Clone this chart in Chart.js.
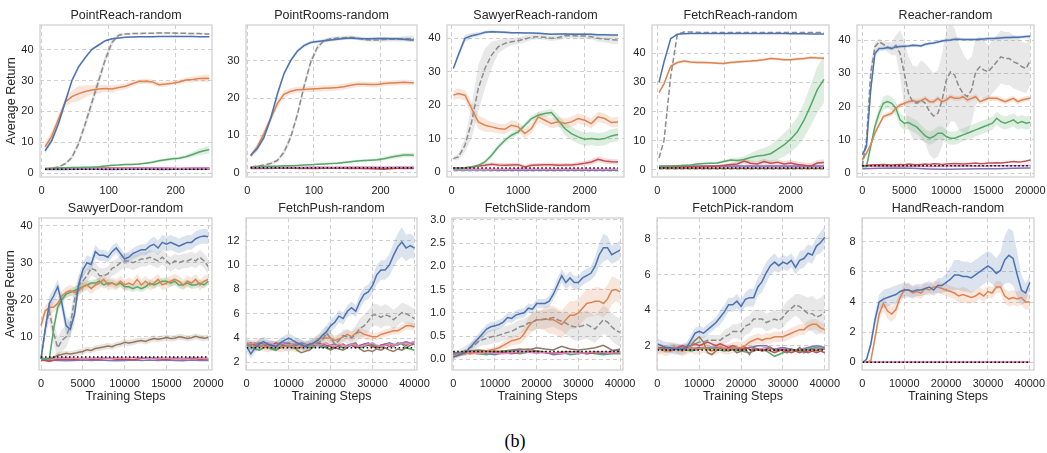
<!DOCTYPE html>
<html><head><meta charset="utf-8">
<script src="https://cdn.jsdelivr.net/npm/chart.js@4.4.0/dist/chart.umd.min.js"></script>
<style>
html,body{margin:0;padding:0;background:#fff;}
body{width:1047px;height:453px;position:relative;overflow:hidden;}
canvas{position:absolute;}
#cap{position:absolute;left:490px;width:50px;top:431px;text-align:center;font:18px "Liberation Serif","Times New Roman",serif;color:#000;}
</style></head><body>
<div id="cap">(b)</div>
<script>
// ---------- titles ----------
const titles = ["PointReach-random","PointRooms-random","SawyerReach-random","FetchReach-random","Reacher-random",
                "SawyerDoor-random","FetchPush-random","FetchSlide-random","FetchPick-random","HandReach-random"];
const yAxisLabel = "Average Return";
const xAxisLabel = "Training Steps";

// ---------- tick labels ----------
const pr_xticks = ["0","100","200"];          const pr_yticks = ["0","10","20","30","40"];
const pm_xticks = ["0","100","200"];          const pm_yticks = ["0","10","20","30"];
const sr_xticks = ["0","1000","2000"];        const sr_yticks = ["0","10","20","30","40"];
const fr_xticks = ["0","1000","2000"];        const fr_yticks = ["0","10","20","30","40"];
const re_xticks = ["0","5000","10000","15000","20000"]; const re_yticks = ["0","10","20","30","40"];
const sd_xticks = ["0","5000","10000","15000","20000"]; const sd_yticks = ["10","20","30","40"];
const fp_xticks = ["0","10000","20000","30000","40000"]; const fp_yticks = ["2","4","6","8","10","12"];
const fs_xticks = ["0","10000","20000","30000","40000"]; const fs_yticks = ["0.0","0.5","1.0","1.5","2.0","2.5","3.0"];
const fk_xticks = ["0","10000","20000","30000","40000"]; const fk_yticks = ["2","4","6","8"];
const hr_xticks = ["0","10000","20000","30000","40000"]; const hr_yticks = ["0","2","4","6","8"];

// ---------- PointReach ----------
const pr_x  = [5,15,25,35,45,55,65,75,85,95,105,115,125,135,145,155,165,175,185,195,205,215,225,235,245,250];
const pr_xm = [5,30,55,80,105,130,155,180,205,230,250];
const pr_blue   = [7.2,10.5,16,23,30,34.5,37.5,40.2,41.6,43,43.6,43.9,44.1,44.2,44.3,44.3,44.3,44.4,44.4,44.4,44.4,44.4,44.4,44.3,44.3,44.3];
const pr_blue_sd= [0.8,1.0,1.0,1.0,0.8,0.6,0.5,0.4,0.3,0.3,0.3,0.3,0.2,0.2,0.2,0.2,0.2,0.2,0.2,0.2,0.2,0.2,0.2,0.2,0.2,0.2];
const pr_orange = [8.5,12,17.5,23,24.8,25.8,26.5,27,27.3,27.5,27.3,27.8,28.2,29,29.7,29.8,29.6,28.7,28.9,29.2,29.6,30.2,30.4,30.7,30.8,30.7];
const pr_orange_sd=[1.5,1.5,1.5,1.5,2.0,2.5,2.0,1.5,1.5,1.2,1.2,1.0,1.0,1.0,0.8,0.8,0.8,0.8,0.8,0.8,0.8,0.8,1.0,1.0,1.2,1.2];
const pr_gray   = [1.3,1.5,2.0,3.0,5.0,9.5,16,23,30,37,42.5,44.8,45.2,45.3,45.3,45.4,45.4,45.5,45.5,45.5,45.4,45.4,45.3,45.3,45.2,45.2];
const pr_gray_sd= [0.2,0.3,0.3,0.5,0.8,1.2,1.5,1.8,1.8,1.5,1.2,0.6,0.3,0.3,0.3,0.3,0.3,0.3,0.3,0.3,0.3,0.3,0.3,0.3,0.3,0.3];
const pr_green  = [1.3,1.5,1.6,1.7,1.8,1.8,1.9,1.9,2.0,2.3,2.5,2.6,2.8,2.8,2.9,3.2,3.5,4.0,4.3,4.6,4.8,5.3,6.0,6.8,7.4,7.6];
const pr_green_sd=[0.2,0.2,0.2,0.2,0.2,0.2,0.2,0.2,0.2,0.3,0.3,0.3,0.3,0.3,0.3,0.3,0.4,0.4,0.5,0.5,0.5,0.6,0.8,1.0,1.2,1.2];
const pr_red    = [1.5,1.6,1.6,1.7,1.6,1.6,1.7,1.6,1.5,1.6,1.7];
const pr_purple = [1.1,1.1,1.2,1.2,1.1,1.2,1.2,1.1,1.2,1.2,1.2];
const pr_pink   = [1.5,1.5,1.6,1.6,1.5,1.5,1.6,1.6,1.5,1.6,1.6];
const pr_black  = [1.2,1.2,1.2,1.2,1.2,1.2,1.2,1.2,1.2,1.2,1.2];

// ---------- PointRooms ----------
const pm_x  = [5,15,25,35,45,55,65,75,85,95,105,115,125,135,145,155,165,175,185,195,205,215,225,235,245,250];
const pm_xm = [5,30,55,80,105,130,155,180,205,230,250];
const pm_blue   = [4.7,6.5,9.5,14.5,21,26.5,30,32.5,34,34.8,35.1,35.3,35.5,35.7,35.9,36.0,35.9,35.8,35.8,35.9,35.9,35.8,35.8,35.7,35.5,35.5];
const pm_blue_sd= [0.6,0.8,0.8,0.8,0.8,0.7,0.6,0.5,0.5,0.4,0.4,0.4,0.4,0.4,0.4,0.4,0.4,0.4,0.4,0.4,0.4,0.4,0.4,0.5,0.5,0.5];
const pm_orange = [4.5,7,10.5,14.5,18.5,21,21.8,22.2,22.3,22.4,22.5,22.6,22.7,22.8,23.0,23.4,23.7,23.7,23.6,23.6,23.9,24.0,24.1,24.2,24.1,24.1];
const pm_orange_sd=[0.5,0.8,1.0,1.2,1.2,1.0,0.8,0.8,0.8,0.8,0.8,0.8,0.8,0.8,0.8,0.8,0.8,0.7,0.7,0.7,0.7,0.7,0.7,0.7,0.7,0.7];
const pm_gray   = [1.6,1.8,2.1,2.5,3.3,5.5,9.5,15.5,23,29.5,33.5,35.3,35.8,36.0,36.1,36.2,36.0,35.6,35.5,35.5,35.6,35.7,35.7,35.8,35.9,35.9];
const pm_gray_sd= [0.2,0.3,0.3,0.4,0.5,0.8,1.0,1.2,1.2,1.0,0.8,0.6,0.5,0.5,0.5,0.5,0.5,0.5,0.5,0.5,0.6,0.6,0.6,0.7,0.8,0.8];
const pm_green  = [1.6,1.7,1.8,1.8,1.8,1.9,1.9,2.0,2.1,2.2,2.3,2.4,2.5,2.6,2.8,3.0,3.2,3.3,3.4,3.5,3.8,4.2,4.5,4.8,4.8,4.7];
const pm_green_sd=[0.2,0.2,0.2,0.2,0.2,0.2,0.2,0.2,0.2,0.2,0.2,0.2,0.2,0.3,0.3,0.3,0.3,0.3,0.3,0.4,0.5,0.5,0.6,0.6,0.6,0.6];
const pm_red    = [1.3,1.4,1.4,1.3,1.3,1.4,1.3,1.2,1.0,1.3,1.4];
const pm_purple = [1.2,1.2,1.3,1.2,1.2,1.3,1.2,1.2,1.3,1.2,1.2];
const pm_pink   = [1.5,1.5,1.6,1.5,1.6,1.5,1.6,1.6,1.5,1.6,1.6];
const pm_black  = [1.4,1.4,1.4,1.4,1.4,1.4,1.4,1.4,1.4,1.4,1.4];

// ---------- SawyerReach ----------
const sr_x  = [25,100,200,300,400,500,600,700,800,900,1000,1100,1200,1300,1400,1500,1600,1700,1800,1900,2000,2100,2200,2300,2400,2500];
const sr_xm = [25,250,500,750,1000,1250,1500,1750,2000,2250,2500];
const sr_blue   = [31,35,40,40.8,41.2,41.8,42.0,41.9,41.8,41.7,41.7,41.6,41.6,41.5,41.4,41.2,41.3,41.3,41.2,41.2,41.2,41.2,41.1,41.1,41.0,41.0];
const sr_blue_sd= [0.5,1.0,1.0,0.8,0.6,0.5,0.4,0.4,0.4,0.3,0.3,0.3,0.3,0.3,0.3,0.3,0.3,0.3,0.3,0.3,0.3,0.3,0.3,0.3,0.3,0.3];
const sr_gray   = [4,4.5,8,15,25,31,35,37.5,38.5,39,39.3,39.8,40.4,40.5,40.3,40.0,40.2,40.8,40.8,40.7,40.7,40.5,40.0,39.8,39.6,39.5];
const sr_gray_sd= [0.5,1,2,5,7,6,4,2,1.5,1,1,1,0.8,0.8,0.8,0.8,0.8,0.8,0.8,0.8,0.8,0.8,1,1,1.2,1.2];
const sr_orange = [23,23.5,23,19,15,14,13.5,13,12.8,14,13.5,11.5,13,16.5,15.5,14.5,15,14.5,15,16,15.5,14.5,16.5,16,14.8,15];
const sr_orange_sd=[1.5,1.5,1.5,2.0,2.0,2.0,1.5,1.5,1.5,1.5,1.5,1.5,1.5,1.5,1.5,1.5,1.5,1.5,1.5,1.5,1.5,1.5,1.5,1.5,1.5,1.5];
const sr_green  = [1,1,1.2,1.5,2,3,5,7.5,9.5,11,12,14,16,17,17.5,17.8,15.5,13,11.5,10.5,9.8,10,9.7,10,10.8,11.2];
const sr_green_sd=[0.2,0.2,0.2,0.3,0.5,0.6,0.8,0.8,0.8,0.8,0.8,0.8,0.8,1.0,1.0,1.2,1.5,2.0,2.0,2.0,2.0,2.0,2.0,2.0,2.0,2.0];
const sr_red    = [1.2,1.2,1.3,1.5,1.8,2,2.3,2.1,2,2.1,2.2,1.5,2,2.1,2.2,2.2,2.0,2.1,2.1,2.3,2.6,3.0,3.8,3.3,3.1,3.0];
const sr_red_sd = [0.2,0.2,0.3,0.4,0.5,0.6,0.6,0.6,0.6,0.6,0.6,0.6,0.6,0.6,0.6,0.6,0.6,0.6,0.6,0.7,0.7,0.8,0.8,0.8,0.8,0.8];
const sr_purple = [0.6,0.6,0.6,0.5,0.5,0.6,0.5,0.5,0.5,0.5,0.5];
const sr_pink   = [0.9,0.9,0.8,0.8,0.9,0.8,0.8,0.9,0.8,0.8,0.8];
const sr_black  = [1.2,1.2,1.2,1.2,1.2,1.2,1.2,1.2,1.2,1.2,1.2];

// ---------- FetchReach ----------
const fr_x  = [25,100,200,300,400,500,600,700,800,900,1000,1100,1200,1300,1400,1500,1600,1700,1800,1900,2000,2100,2200,2300,2400,2500];
const fr_xm = [25,250,500,750,1000,1250,1500,1750,2000,2250,2500];
const fr_blue   = [30,37,45,46.5,46.7,46.8,46.8,46.8,46.8,46.8,46.8,46.8,46.8,46.8,46.8,46.8,46.8,46.8,46.8,46.8,46.7,46.7,46.7,46.6,46.6,46.6];
const fr_gray   = [4,10,32,46.5,47.3,47.3,47.2,47.1,47.1,47.1,47.1,47.1,47.1,47.1,47.1,47.1,47.1,47.1,47.1,47.1,47.1,47.1,47.1,47.1,47.1,47.1];
const fr_orange = [26.5,29.5,35.5,36.8,37.3,37.0,36.8,36.8,36.7,36.6,36.5,36.8,37.0,37.2,37.3,37.5,37.8,38.2,38.0,37.8,37.8,38.0,38.2,38.5,38.4,38.3];
const fr_orange_sd=[0.5,0.6,0.6,0.5,0.5,0.5,0.5,0.5,0.5,0.5,0.5,0.5,0.5,0.5,0.5,0.5,0.5,0.5,0.5,0.5,0.5,0.5,0.5,0.5,0.5,0.5];
const fr_green  = [1,1.1,1.2,1.4,1.5,1.6,2.0,2.1,2.2,2.3,2.8,3.3,3.2,3.5,4.2,4.7,5.0,5.5,7.0,8.5,10.5,13,17,22,27.5,31];
const fr_green_sd=[0.2,0.2,0.2,0.2,0.2,0.3,0.3,0.3,0.3,0.4,0.5,0.6,0.8,1.0,1.5,2.0,2.5,3.0,3.5,4.0,4.5,5.0,6.0,7.0,8.0,8.0];
const fr_red    = [0.8,0.8,0.9,0.9,1,1,1,1.1,1.2,1.3,1.5,1.8,2.0,3.0,2.2,2.0,2.8,2.2,2.6,2.0,2.3,1.8,1.5,1.2,2.3,2.5];
const fr_red_sd = [0.2,0.2,0.2,0.2,0.2,0.3,0.3,0.3,0.3,0.4,0.5,0.6,0.8,1.0,1.0,1.0,1.0,1.0,1.0,1.0,1.0,1.0,1.0,1.0,1.0,1.0];
const fr_purple = [1.3,1.3,1.3,1.3,1.3,1.3,1.3,1.3,1.3,1.3,1.3];
const fr_pink   = [0.9,0.9,0.9,0.9,0.9,0.9,0.9,0.9,0.9,0.9,0.9];
const fr_brown  = [0.4,0.4,0.4,0.4,0.4,0.4,0.4,0.4,0.4,0.4,0.4];
const fr_black  = [0.6,0.6,0.6,0.6,0.6,0.6,0.6,0.6,0.6,0.6,0.6];

// ---------- Reacher ----------
const re_x  = [0,500,1000,1500,2000,2500,3000,3500,4000,4500,5000,5500,6000,6500,7000,7500,8000,8500,9000,9500,10000,10500,11000,11500,12000,12500,13000,13500,14000,14500,15000,15500,16000,16500,17000,17500,18000,18500,19000,19500,20000];
const re_xm = [0,2000,4000,6000,8000,10000,12000,14000,16000,18000,20000];
const re_blue   = [5.5,8,25,36,37.5,37.5,37.8,37.5,38,38.1,38.2,38.3,38.5,38.4,38.3,38.8,39,39.2,39.5,39.8,40,40.1,40.3,40.3,40.2,40.2,40.2,40.2,40.3,40.4,40.5,40.5,40.6,40.7,40.8,40.8,40.9,40.9,41,41.1,41.2];
const re_blue_sd= [0.5,1,2,1,0.8,0.6,0.6,0.6,0.6,0.5,0.5,0.5,0.5,0.5,0.5,0.5,0.5,0.5,0.5,0.5,0.5,0.5,0.5,0.5,0.5,0.5,0.5,0.5,0.5,0.5,0.5,0.5,0.5,0.5,0.5,0.5,0.5,0.5,0.5,0.5,0.5];
const re_gray   = [2,10,30,38,39.5,38.8,38,37.5,38.5,36,30,24,21.5,21,22,21,18.5,17.2,18,22,28,30.5,29.5,26,24,23,25,30.5,32,31,30.5,32,33.5,35,34.5,34.5,33.5,33,32,31.5,34];
const re_gray_sd= [0.5,2,3,1.5,1,1,1.5,2,3,7,10,11,11,11,12,12,13,13,13,14,15,15,14,13,12,11,10,10,9,9,8,8,8,8,8,8,8,8,7.5,7.5,7.5];
const re_orange = [4,6,8.5,12,14.5,17,17.5,18,19.5,20.5,21,21.5,21.8,21.5,21.8,22.5,21.5,21.5,22.5,21.5,22,23,22.5,22.5,23,22,22.5,23,21.5,22,22.5,22.5,22.5,22,21.5,22,22.5,21.5,22,22.3,22.5];
const re_orange_sd=[0.5,0.8,0.8,0.8,0.8,0.8,0.8,0.8,0.8,0.8,0.8,0.8,0.8,0.8,0.8,0.8,0.8,0.8,0.8,0.8,0.8,0.8,0.8,0.8,0.8,0.8,0.8,0.8,0.8,0.8,0.8,0.8,0.8,0.8,0.8,0.8,0.8,0.8,0.8,0.8,0.8];
const re_green  = [2,2,8,14,18,21,21.5,21,19.5,16,15,15.2,14.5,13.8,12.5,11.2,10.5,11,12,12,11,10.5,10.5,11,11.5,12,12.5,13,13.5,14,14.5,15,16.5,15.5,15,15.5,16,15,15.5,15,15.3];
const re_green_sd=[0.3,0.3,1,1.5,2,2,2,2,2,2,2,2,2,2,2,2,2,2,2,2,2,2,2,2,2,2,2,2,2,2,2,2,2,2,2,2,2,2,2,2,2];
const re_red    = [2.3,2.3,2.4,2.5,2.5,2.6,2.5,2.4,2.5,2.6,2.5,2.7,2.6,2.5,2.6,2.7,2.6,2.8,2.7,2.6,2.7,2.8,2.9,2.8,2.7,2.8,2.9,3,2.8,2.9,3,3,3.1,3,3.2,3.3,3.5,3.3,3.4,3.6,3.9];
const re_purple = [1.3,1.4,1.5,1.4,1.2,1.1,1.2,1.3,1.3,1.4,1.5];
const re_pink   = [2.0,2.1,2.0,2.1,2.0,2.1,2.2,2.1,2.2,2.2,2.3];
const re_black  = [2.2,2.2,2.2,2.2,2.2,2.2,2.2,2.2,2.2,2.2,2.2];

// ---------- SawyerDoor ----------
const sd_x  = [0,500,1000,1500,2000,2500,3000,3500,4000,4500,5000,5500,6000,6500,7000,7500,8000,8500,9000,9500,10000,10500,11000,11500,12000,12500,13000,13500,14000,14500,15000,15500,16000,16500,17000,17500,18000,18500,19000,19500,20000];
const sd_xm = [0,1000,2000,3000,4000,5000,6000,7000,8000,9000,10000,11000,12000,13000,14000,15000,16000,17000,18000,19000,20000];
const sd_blue   = [4,12,19,21,23.5,19,13,12,16,24,28,30,29.5,33,32,32,31.5,33,34,32.5,31,31.5,32.5,33,33.5,33.5,34.5,35,34,35.5,35,35.5,35,34.5,35,35.5,35.5,36.5,37,37.2,37];
const sd_blue_sd= [0.5,1.5,2,2,2,2.5,2.5,2,2.5,2.5,2,2,2,1.8,1.5,1.5,1.5,1.5,1.5,1.5,1.5,1.5,1.5,1.5,1.5,1.5,1.8,2,2,2,2,2,2,2,2,2,2,2,2,2,2];
const sd_gray   = [4,12,17,11,7,9,10,13,20,24,25,26.5,28.5,28,26.5,26.5,27,28.5,29,30,30.5,30.5,30,30.5,31,31,31.5,31,30.5,31.5,30.5,29.5,30.5,30,30.5,30.5,31,30.5,31.5,30.5,29];
const sd_gray_sd= [0.5,2,3,3,3,3,3,3,3,2.5,2.5,2,2,2,2,2,2,2,2,2,2,2,2,2,2,2,2,2,2,2,2,2,2,2,2,2,2,2,2,2,2];
const sd_orange = [13,17,18,18,19,21,22,22.5,22,22.5,23.5,24,23,24,24.5,25.5,24,24.5,24,25,24,24.5,24,25.5,24,25,24,24.5,25.5,24,24.5,25,25.5,25,24,25,24.5,25.5,24,25,25.5];
const sd_orange_sd=[1.5,1.5,1.5,1.5,1.5,1.5,1.5,1.5,1.5,1.5,1.5,1.5,1.5,1.5,1.5,1.5,1.5,1.5,1.5,1.5,1.5,1.5,1.5,1.5,1.5,1.5,1.5,1.5,1.5,1.5,1.5,1.5,1.5,1.5,1.5,1.5,1.5,1.5,1.5,1.5,1.5];
const sd_green  = [4,4,4,12,18,20,21.5,22,22.5,23,23.5,24,24.5,24.5,25,24,24.5,24.5,24,24.5,23.5,23.5,23,23.5,23,23.5,24.5,24,24.5,25,25,24.5,25,24,24,24.5,24,24,24.5,24,25];
const sd_green_sd=[0.3,0.3,0.5,1.5,1.5,1.2,1,1,1,1,1,1,1,1,1,1,1,1,1,1,1,1,1,1,1,1,1,1,1,1,1,1,1,1,1,1,1,1,1,1,1];
const sd_brown  = [4,4,4.1,4.3,5,5.2,5.5,5.3,5.5,5.8,6,6.5,6.3,6.8,7,7.2,7.5,7.3,7.8,8,8.5,8.3,8.5,8.8,9,8.7,9.2,9.5,9.3,9.5,9.8,9.5,9.6,10,9.8,9.5,9.7,10.1,9.8,9.6,9.8];
const sd_brown_sd=[0.3,0.3,0.5,0.6,0.8,0.8,0.8,0.8,0.8,0.8,0.8,0.8,0.8,0.8,0.8,0.8,0.8,0.8,0.8,0.8,0.8,0.8,0.8,0.8,0.8,0.8,0.8,0.8,0.8,0.8,0.8,0.8,0.8,0.8,0.8,0.8,0.8,0.8,0.8,0.8,0.8];
const sd_red    = [3.8,3.3,3.9,4.0,3.8,4.1,3.9,4.0,4.2,3.9,4.0,3.8,4.1,4.3,4.0,3.9,4.1,4.0,4.2,3.9,4.0];
const sd_purple = [3.6,3.7,3.6,3.5,3.6,3.7,3.6,3.7,3.6,3.5,3.6,3.7,3.6,3.7,3.6,3.7,3.6,3.5,3.7,3.6,3.6];
const sd_pink   = [4.2,4.1,4.2,4.3,4.2,4.1,4.2,4.3,4.2,4.3,4.2,4.3,4.4,4.2,4.3,4.2,4.3,4.2,4.4,4.3,4.2];
const sd_black  = [4.5,4.5,4.5,4.5,4.5,4.5,4.5,4.5,4.5,4.5,4.5,4.5,4.5,4.5,4.5,4.5,4.5,4.5,4.5,4.5,4.5];

// ---------- FetchPush ----------
const fp_x  = [0,1000,2000,3000,4000,5000,6000,7000,8000,9000,10000,11000,12000,13000,14000,15000,16000,17000,18000,19000,20000,21000,22000,23000,24000,25000,26000,27000,28000,29000,30000,31000,32000,33000,34000,35000,36000,37000,38000,39000,40000];
const fp_xm = [0,2000,4000,6000,8000,10000,12000,14000,16000,18000,20000,22000,24000,26000,28000,30000,32000,34000,36000,38000,40000];
const fp_blue   = [3.3,2.7,3.2,3.5,3.7,3.5,3.4,3.3,3.6,3.8,4,3.8,3.6,3.5,3.3,3.5,3.6,3.8,4.2,4.5,5,5.3,5.8,5.6,6.2,6.5,6.2,7,7.6,7.8,8.3,9.2,9.6,9.6,10,10.8,11.5,11.9,11.4,11.6,11.4];
const fp_blue_sd= [0.4,0.4,0.4,0.4,0.4,0.4,0.4,0.4,0.4,0.4,0.4,0.4,0.4,0.4,0.4,0.4,0.4,0.4,0.5,0.5,0.5,0.5,0.5,0.5,0.5,0.5,0.5,0.6,0.6,0.6,0.7,0.8,0.8,0.8,0.9,1.0,1.1,1.2,1.1,1.0,0.9];
const fp_gray   = [3.5,3.4,3.5,3.6,3.5,3.4,3.3,3.4,3.5,3.4,3.3,3.4,3.5,3.4,3.3,3.4,3.5,3.6,3.8,4.4,4.0,3.5,3.8,4.2,4.1,4.0,4.3,4.8,5.0,5.4,5.9,5.9,5.7,5.9,5.8,5.5,5.8,6.1,6.0,5.8,5.6];
const fp_gray_sd= [0.4,0.4,0.4,0.4,0.4,0.4,0.4,0.4,0.4,0.4,0.4,0.4,0.4,0.4,0.4,0.4,0.4,0.4,0.5,0.6,0.6,0.5,0.5,0.5,0.6,0.6,0.7,0.8,0.9,0.9,0.9,0.9,0.9,0.9,0.8,0.8,0.8,0.8,0.8,0.8,0.8];
const fp_orange = [3.5,3.4,3.3,3.4,3.3,3.2,3.4,3.3,3.2,3.3,3.4,3.3,3.2,3.3,3.4,3.3,3.6,3.9,4.0,4.0,4.0,3.8,3.9,4.1,4.3,4.1,4.4,4.5,4.3,4.2,4.1,4.1,4.3,4.4,4.5,4.6,4.6,4.8,5.0,5.0,4.9];
const fp_orange_sd=[0.4,0.4,0.4,0.4,0.4,0.4,0.4,0.4,0.4,0.4,0.4,0.4,0.4,0.4,0.4,0.4,0.4,0.4,0.4,0.4,0.4,0.4,0.4,0.4,0.4,0.4,0.4,0.4,0.4,0.4,0.3,0.3,0.3,0.3,0.3,0.3,0.3,0.3,0.3,0.3,0.3];
const fp_green  = [3.4,3.3,3.1,3.0,3.2,3.3,3.1,3.0,3.2,3.4,3.3,3.2,3.1,3.3,3.4,3.2,3.3,3.5,3.3,3.2,3.1,3.3,3.4,3.2,3.3,3.5,3.4,3.2,3.3,3.4,3.5,3.3,3.2,3.4,3.5,3.3,3.6,3.5,3.2,3.1,3.0];
const fp_red    = [3.6,3.5,3.4,3.6,3.5,3.3,3.4,3.6,3.5,3.4,3.3,3.5,3.6,3.4,3.3,3.5,3.4,3.6,3.5,3.4,3.3,3.2,3.4,3.5,3.3,3.4,3.2,3.3,3.5,3.4,3.3,3.2,3.4,3.5,3.3,3.4,3.5,3.6,3.4,3.6,3.7];
const fp_brown  = [3.5,3.6,3.4,3.3,3.5,3.6,3.2,3.0,3.3,3.5,3.6,3.4,3.0,2.8,2.9,3.0,3.3,3.5,3.4,3.2,3.0,3.2,3.1,3.0,3.2,3.5,3.6,3.1,2.9,3.0,2.9,3.1,3.0,3.2,3.0,2.9,3.1,3.0,3.2,3.4,3.5];
const fp_purple = [3.4,3.5,3.6,3.4,3.3,3.5,3.4,3.3,3.5,3.6,3.5,3.3,3.4,3.6,3.5,3.4,3.3,3.4,3.2,3.3,3.4,3.5,3.3,3.2,3.4,3.5,3.3,3.4,3.5,3.6,3.4,3.3,3.4,3.5,3.6,3.5,3.4,3.6,3.7,3.6,3.5];
const fp_pink   = [3.6,3.5,3.6,3.4,3.5,3.6,3.5,3.4,3.6,3.5,3.4,3.5,3.6,3.5,3.4,3.3,3.5,3.4,3.5,3.6,3.4,3.3,3.5,3.4,3.3,3.5,3.4,3.3,3.4,3.5,3.6,3.4,3.3,3.4,3.5,3.4,3.5,3.6,3.5,3.6,3.7];
const fp_black  = [3.2,3.2,3.2,3.2,3.2,3.2,3.2,3.2,3.2,3.2,3.2,3.2,3.2,3.2,3.2,3.2,3.2,3.2,3.2,3.2,3.2];

// ---------- FetchSlide ----------
const fs_x  = [0,1000,2000,3000,4000,5000,6000,7000,8000,9000,10000,11000,12000,13000,14000,15000,16000,17000,18000,19000,20000,21000,22000,23000,24000,25000,26000,27000,28000,29000,30000,31000,32000,33000,34000,35000,36000,37000,38000,39000,40000];
const fs_xm = [0,2000,4000,6000,8000,10000,12000,14000,16000,18000,20000,22000,24000,26000,28000,30000,32000,34000,36000,38000,40000];
const fs_blue   = [0.05,0.08,0.12,0.15,0.25,0.35,0.45,0.55,0.65,0.7,0.72,0.75,0.8,0.9,0.88,0.95,0.98,1.0,1.1,1.08,1.2,1.2,1.2,1.25,1.4,1.6,1.8,1.65,1.75,1.65,1.65,1.75,1.8,1.85,2.0,2.25,2.4,2.4,2.25,2.3,2.35];
const fs_blue_sd= [0.05,0.05,0.05,0.06,0.08,0.1,0.1,0.1,0.1,0.1,0.1,0.1,0.1,0.1,0.1,0.1,0.1,0.1,0.1,0.1,0.1,0.1,0.1,0.12,0.12,0.15,0.15,0.15,0.15,0.15,0.15,0.15,0.15,0.15,0.2,0.25,0.3,0.25,0.2,0.2,0.2];
const fs_gray   = [0.1,0.12,0.15,0.2,0.25,0.3,0.38,0.42,0.45,0.48,0.5,0.52,0.55,0.58,0.6,0.65,0.7,0.72,0.78,0.8,0.85,0.85,0.86,0.88,0.9,0.85,0.82,0.78,0.72,0.7,0.7,0.72,0.75,0.7,0.65,0.75,0.85,0.8,0.7,0.62,0.58];
const fs_gray_sd= [0.08,0.08,0.08,0.1,0.1,0.12,0.12,0.12,0.15,0.15,0.15,0.15,0.15,0.15,0.15,0.15,0.15,0.15,0.15,0.2,0.2,0.2,0.2,0.2,0.2,0.2,0.2,0.25,0.25,0.3,0.3,0.3,0.3,0.3,0.3,0.3,0.3,0.3,0.3,0.3,0.3];
const fs_orange = [0.05,0.08,0.1,0.12,0.15,0.15,0.15,0.16,0.18,0.2,0.22,0.25,0.3,0.35,0.4,0.42,0.45,0.55,0.7,0.8,0.85,0.85,0.87,0.85,0.85,0.8,0.75,0.85,0.95,0.95,1.0,1.1,1.2,1.22,1.25,1.25,1.2,1.3,1.48,1.5,1.45];
const fs_orange_sd=[0.03,0.03,0.03,0.05,0.05,0.05,0.05,0.05,0.05,0.05,0.05,0.06,0.08,0.1,0.1,0.1,0.12,0.15,0.2,0.2,0.2,0.2,0.25,0.3,0.3,0.3,0.3,0.3,0.3,0.3,0.3,0.3,0.3,0.3,0.3,0.3,0.3,0.3,0.3,0.25,0.25];
const fs_green  = [0.1,0.12,0.15,0.12,0.1,0.15,0.18,0.15,0.12,0.15,0.18,0.15,0.12,0.15,0.1,0.12,0.15,0.12,0.1,0.12,0.12];
const fs_red    = [0.12,0.15,0.12,0.14,0.16,0.18,0.14,0.12,0.15,0.17,0.16,0.14,0.13,0.15,0.16,0.14,0.12,0.14,0.15,0.13,0.15];
const fs_purple = [0.15,0.12,0.14,0.16,0.12,0.1,0.14,0.18,0.2,0.22,0.18,0.15,0.1,0.12,0.14,0.16,0.12,0.15,0.12,0.18,0.22];
const fs_brown  = [0.12,0.15,0.18,0.2,0.18,0.16,0.18,0.2,0.22,0.2,0.25,0.22,0.2,0.28,0.22,0.2,0.22,0.25,0.3,0.2,0.18];
const fs_pink   = [0.1,0.12,0.14,0.12,0.15,0.13,0.12,0.14,0.16,0.15,0.13,0.15,0.14,0.12,0.15,0.13,0.14,0.16,0.15,0.14,0.15];
const fs_black  = [0.17,0.17,0.17,0.17,0.17,0.17,0.17,0.17,0.17,0.17,0.17,0.17,0.17,0.17,0.17,0.17,0.17,0.17,0.17,0.17,0.17];

// ---------- FetchPick ----------
const fk_x  = [0,1000,2000,3000,4000,5000,6000,7000,8000,9000,10000,11000,12000,13000,14000,15000,16000,17000,18000,19000,20000,21000,22000,23000,24000,25000,26000,27000,28000,29000,30000,31000,32000,33000,34000,35000,36000,37000,38000,39000,40000];
const fk_xm = [0,2000,4000,6000,8000,10000,12000,14000,16000,18000,20000,22000,24000,26000,28000,30000,32000,34000,36000,38000,40000];
const fk_blue   = [2.1,2.0,1.9,1.9,1.8,1.8,1.8,1.9,2.3,2.7,2.8,2.7,2.9,3.1,3.3,3.6,3.9,4.3,4.3,4.5,4.2,4.6,4.7,4.7,5.3,5.6,6.1,6.5,6.7,6.5,6.7,6.6,6.8,6.4,6.8,6.9,7.2,7.1,7.6,7.8,8.1];
const fk_blue_sd= [0.3,0.3,0.3,0.3,0.3,0.3,0.3,0.3,0.3,0.3,0.3,0.3,0.3,0.3,0.3,0.4,0.4,0.4,0.4,0.4,0.4,0.4,0.5,0.5,0.5,0.6,0.6,0.5,0.5,0.4,0.4,0.4,0.4,0.4,0.5,0.5,0.5,0.5,0.5,0.6,0.6];
const fk_gray   = [1.8,1.8,1.8,1.8,1.9,1.8,1.9,1.9,2.0,2.1,2.2,2.2,2.3,2.3,2.3,2.3,2.5,2.6,2.8,2.8,2.8,3.1,3.2,3.5,3.5,3.5,3.3,3.4,3.5,3.4,3.6,3.9,4.1,4.3,4.2,4.0,3.8,3.8,3.6,3.7,3.9];
const fk_gray_sd= [0.2,0.2,0.2,0.2,0.2,0.2,0.2,0.2,0.3,0.3,0.3,0.3,0.3,0.3,0.3,0.3,0.4,0.4,0.4,0.4,0.5,0.5,0.5,0.5,0.5,0.5,0.5,0.5,0.5,0.5,0.6,0.6,0.6,0.6,0.7,0.8,0.9,1.0,1.0,1.0,1.0];
const fk_orange = [1.8,1.8,1.7,1.8,1.9,1.8,1.7,1.8,1.9,1.8,1.8,1.9,1.8,1.7,1.8,1.9,1.8,1.8,1.9,1.9,1.9,2.0,2.2,2.3,2.4,2.3,2.4,2.4,2.5,2.5,2.5,2.6,2.7,2.8,2.9,2.9,3.1,3.2,3.2,3.0,2.9];
const fk_orange_sd=[0.3,0.3,0.3,0.3,0.3,0.3,0.3,0.3,0.3,0.3,0.3,0.3,0.3,0.3,0.3,0.3,0.3,0.3,0.3,0.3,0.3,0.3,0.3,0.3,0.3,0.3,0.3,0.3,0.3,0.3,0.3,0.3,0.3,0.3,0.3,0.3,0.3,0.3,0.3,0.3,0.3];
const fk_brown  = [1.9,1.8,1.7,1.8,1.9,1.8,1.7,1.9,2.0,2.3,2.5,2.2,1.6,1.5,1.7,1.9,1.8,1.7,1.8,1.6,1.7,1.8,1.5,1.9,1.8,1.7,1.8,1.9,1.7,1.8,1.7,1.6,1.8,1.7,1.9,1.6,1.7,1.8,1.7,1.8,1.8];
const fk_red    = [1.8,1.9,1.8,1.7,1.8,1.9,2.0,1.9,2.0,2.1,2.0,2.1,2.2,2.1,2.0,2.1,2.0,1.9,2.0,1.9,1.8,1.9,1.8,1.7,1.8,1.7,1.8,1.7,1.6,1.7,1.8,1.7,1.6,1.7,1.6,1.7,1.6,1.7,1.6,1.7,1.6];
const fk_green  = [1.9,1.8,1.9,1.8,1.7,1.8,1.9,1.8,1.7,1.8,1.7,1.6,1.8,1.7,1.4,1.6,1.8,1.7,1.8,1.9,1.8];
const fk_purple = [1.8,1.9,1.8,1.9,1.8,1.9,1.8,1.9,1.8,1.9,1.8,1.9,2.0,2.0,1.8,1.9,1.8,1.7,1.9,2.0,1.9];
const fk_pink   = [1.9,1.8,1.9,2.0,1.9,1.8,1.9,2.0,1.9,1.8,1.7,1.9,1.8,1.9,1.8,1.9,1.7,1.8,1.9,1.8,1.9];
const fk_black  = [1.75,1.75,1.75,1.75,1.75,1.75,1.75,1.75,1.75,1.75,1.75,1.75,1.75,1.75,1.75,1.75,1.75,1.75,1.75,1.75,1.75];

// ---------- HandReach ----------
const hr_x  = [0,1000,2000,3000,4000,5000,6000,7000,8000,9000,10000,11000,12000,13000,14000,15000,16000,17000,18000,19000,20000,21000,22000,23000,24000,25000,26000,27000,28000,29000,30000,31000,32000,33000,34000,35000,36000,37000,38000,39000,40000];
const hr_xm = [0,10000,20000,30000,40000];
const hr_blue   = [0,0.2,1.2,2.8,4.0,4.2,4.3,4.4,4.5,4.7,4.8,4.8,4.7,4.8,4.8,4.9,5.0,4.8,5.1,5.1,5.3,5.5,5.8,5.8,5.7,5.7,5.6,5.8,6.0,6.2,6.4,6.2,5.9,6.1,6.8,7.1,6.9,5.8,4.8,4.6,5.3];
const hr_blue_sd= [0,0.1,0.3,0.5,0.5,0.6,0.6,0.6,0.6,0.5,0.5,0.5,0.4,0.4,0.4,0.4,0.4,0.4,0.5,0.5,0.6,0.8,1.0,1.0,1.0,1.0,1.0,1.0,1.0,1.0,1.0,1.0,1.0,1.2,1.6,1.8,1.8,1.5,1.0,0.6,0.5];
const hr_orange = [0,0,0.1,1.6,3.2,3.9,3.4,3.2,3.5,4.3,4.8,4.8,4.6,4.7,4.6,4.9,4.8,5.0,5.0,4.9,4.8,4.7,4.6,4.4,4.5,4.4,4.3,4.4,4.6,4.4,4.7,4.6,5.0,5.0,4.4,4.2,4.3,4.2,4.3,4.0,4.0];
const hr_orange_sd=[0,0,0.05,0.3,0.4,0.5,0.5,0.5,0.5,0.4,0.4,0.4,0.4,0.4,0.4,0.4,0.4,0.4,0.4,0.4,0.4,0.4,0.4,0.5,0.5,0.5,0.4,0.4,0.4,0.4,0.4,0.4,0.4,0.4,0.5,0.5,0.5,0.5,0.5,0.5,0.5];
const hr_red    = [0,0,0,0,0];
const hr_pink   = [0,0,0,0,0];
const hr_black  = [0,0,0,0,0];

// ---------- styling / layout ----------
const COLORS = {blue:'#4c72b0', orange:'#dd8452', green:'#55a868', red:'#c44e52', purple:'#8172b3',
                brown:'#937860', pink:'#da8bc3', gray:'#8c8c8c', black:'#000000'};
Chart.defaults.font.family = '"Liberation Sans", Arial, sans-serif';

// [name, x, y, sd]; first entry drawn on top
const PANELS = [
 {t:0, frame:[40,25,212,177],  xr:[-2.5,254],   yr:[-1.3,48.1], xt:pr_xticks, yt:pr_yticks, ylab:true,  xlab:false,
  s:[['black',pr_xm,pr_black],['blue',pr_x,pr_blue,pr_blue_sd],['gray',pr_x,pr_gray,pr_gray_sd],['orange',pr_x,pr_orange,pr_orange_sd],['green',pr_x,pr_green,pr_green_sd],['pink',pr_xm,pr_pink],['red',pr_xm,pr_red],['purple',pr_xm,pr_purple]]},
 {t:1, frame:[246,25,417,177], xr:[-2,254.7],   yr:[-1.1,39.5], xt:pm_xticks, yt:pm_yticks, ylab:false, xlab:false,
  s:[['black',pm_xm,pm_black],['blue',pm_x,pm_blue,pm_blue_sd],['gray',pm_x,pm_gray,pm_gray_sd],['orange',pm_x,pm_orange,pm_orange_sd],['green',pm_x,pm_green,pm_green_sd],['pink',pm_xm,pm_pink],['red',pm_xm,pm_red],['purple',pm_xm,pm_purple]]},
 {t:2, frame:[447,25,624,177], xr:[-70,2590],   yr:[-1.5,44],   xt:sr_xticks, yt:sr_yticks, ylab:false, xlab:false,
  s:[['black',sr_xm,sr_black],['blue',sr_x,sr_blue,sr_blue_sd],['gray',sr_x,sr_gray,sr_gray_sd],['orange',sr_x,sr_orange,sr_orange_sd],['green',sr_x,sr_green,sr_green_sd],['red',sr_x,sr_red,sr_red_sd],['pink',sr_xm,sr_pink],['purple',sr_xm,sr_purple]]},
 {t:3, frame:[652,25,829,177], xr:[-80,2575],   yr:[-2.5,49.7], xt:fr_xticks, yt:fr_yticks, ylab:false, xlab:false,
  s:[['black',fr_xm,fr_black],['blue',fr_x,fr_blue],['gray',fr_x,fr_gray],['orange',fr_x,fr_orange,fr_orange_sd],['green',fr_x,fr_green,fr_green_sd],['red',fr_x,fr_red,fr_red_sd],['purple',fr_xm,fr_purple],['pink',fr_xm,fr_pink],['brown',fr_xm,fr_brown]]},
 {t:4, frame:[857,25,1034,177],xr:[-630,20440], yr:[-1.2,44.6], xt:re_xticks, yt:re_yticks, ylab:false, xlab:false,
  s:[['black',re_xm,re_black],['blue',re_x,re_blue,re_blue_sd],['gray',re_x,re_gray,re_gray_sd],['orange',re_x,re_orange,re_orange_sd],['green',re_x,re_green,re_green_sd],['red',re_x,re_red],['pink',re_xm,re_pink],['purple',re_xm,re_purple]]},
 {t:5, frame:[39,218,212,370], xr:[-240,20450], yr:[1.0,42.1],  xt:sd_xticks, yt:sd_yticks, ylab:true,  xlab:true,
  s:[['black',sd_xm,sd_black],['blue',sd_x,sd_blue,sd_blue_sd],['gray',sd_x,sd_gray,sd_gray_sd],['orange',sd_x,sd_orange,sd_orange_sd],['green',sd_x,sd_green,sd_green_sd],['brown',sd_x,sd_brown,sd_brown_sd],['pink',sd_xm,sd_pink],['red',sd_xm,sd_red],['purple',sd_xm,sd_purple]]},
 {t:6, frame:[246,218,417,370],xr:[-160,40600], yr:[1.37,13.87],xt:fp_xticks, yt:fp_yticks, ylab:false, xlab:true,
  s:[['black',fp_xm,fp_black],['blue',fp_x,fp_blue,fp_blue_sd],['gray',fp_x,fp_gray,fp_gray_sd],['orange',fp_x,fp_orange,fp_orange_sd],['pink',fp_x,fp_pink],['red',fp_x,fp_red],['green',fp_x,fp_green],['purple',fp_x,fp_purple],['brown',fp_x,fp_brown]]},
 {t:7, frame:[452,218,623,370],xr:[-300,40700], yr:[-0.23,3.04],xt:fs_xticks, yt:fs_yticks, ylab:false, xlab:true,
  s:[['black',fs_xm,fs_black],['blue',fs_x,fs_blue,fs_blue_sd],['gray',fs_x,fs_gray,fs_gray_sd],['orange',fs_x,fs_orange,fs_orange_sd],['brown',fs_xm,fs_brown],['pink',fs_xm,fs_pink],['red',fs_xm,fs_red],['green',fs_xm,fs_green],['purple',fs_xm,fs_purple]]},
 {t:8, frame:[657,218,829,370],xr:[-100,41000], yr:[0.63,9.18], xt:fk_xticks, yt:fk_yticks, ylab:false, xlab:true,
  s:[['black',fk_xm,fk_black],['blue',fk_x,fk_blue,fk_blue_sd],['gray',fk_x,fk_gray,fk_gray_sd],['orange',fk_x,fk_orange,fk_orange_sd],['red',fk_x,fk_red],['brown',fk_x,fk_brown],['green',fk_xm,fk_green],['purple',fk_xm,fk_purple],['pink',fk_xm,fk_pink]]},
 {t:9, frame:[862,218,1034,370],xr:[-100,41000],yr:[-0.51,9.58],xt:hr_xticks, yt:hr_yticks, ylab:false, xlab:true,
  s:[['black',hr_xm,hr_black],['blue',hr_x,hr_blue,hr_blue_sd],['orange',hr_x,hr_orange,hr_orange_sd],['pink',hr_xm,hr_pink],['red',hr_xm,hr_red]]}
];

function rgba(hex,a){const n=parseInt(hex.slice(1),16);return `rgba(${n>>16&255},${n>>8&255},${n&255},${a})`;}

function buildDatasets(series){
  const lines=[], bands=[];
  for (const [name,xs,ys,sd] of series){
    const c=COLORS[name];
    lines.push({label:name, data:xs.map((x,i)=>({x:x,y:ys[i]})), borderColor:c,
      borderWidth: 1.5,
      borderDash: name==='gray'?[5.5,2.5]:(name==='black'?[1.5,2.5]:[]),
      pointRadius:0, fill:false, tension:0});
    if (sd){
      bands.push({label:name+'-hi', data:xs.map((x,i)=>({x:x,y:ys[i]+sd[i]})), borderColor:'rgba(0,0,0,0)', borderWidth:0, pointRadius:0, backgroundColor:rgba(c,0.2), fill:'+1'});
      bands.push({label:name+'-lo', data:xs.map((x,i)=>({x:x,y:ys[i]-sd[i]})), borderColor:'rgba(0,0,0,0)', borderWidth:0, pointRadius:0, fill:false});
    }
  }
  return lines.concat(bands);
}

const framePlugin = {id:'frame', afterDatasetsDraw(chart){
  const {ctx, chartArea:a} = chart;
  ctx.save(); ctx.strokeStyle='#cfcfcf'; ctx.lineWidth=1.25; ctx.setLineDash([]);
  ctx.strokeRect(a.left, a.top, a.right-a.left, a.bottom-a.top); ctx.restore();
}};

const TITLE_H = 22, RIGHT_PAD = 18;
PANELS.forEach(p=>{
  const [L,T,R,B] = p.frame;
  const yW = p.ylab ? 40 : 36;
  const bottomH = p.xlab ? 36 : 20;
  const cw = yW + (R-L) + RIGHT_PAD, ch = TITLE_H + (B-T) + bottomH;
  const cv = document.createElement('canvas');
  cv.width = cw; cv.height = ch;
  cv.style.left = (L-yW)+'px'; cv.style.top = (T-TITLE_H)+'px';
  cv.style.width = cw+'px'; cv.style.height = ch+'px';
  document.body.appendChild(cv);
  const xVals = p.xt.map(Number), yVals = p.yt.map(Number);
  new Chart(cv, {
    type:'line',
    data:{datasets: buildDatasets(p.s)},
    plugins:[framePlugin],
    options:{
      responsive:false, animation:false, devicePixelRatio:1,
      layout:{padding:{left:0,right:RIGHT_PAD,top:0,bottom:0}},
      plugins:{
        legend:{display:false}, tooltip:{enabled:false},
        filler:{drawTime:'beforeDatasetsDraw'},
        title:{display:true, text:titles[p.t], fullSize:false, color:'#262626',
               font:{size:12.5, weight:'normal'}, padding:{top:5.5,bottom:1.5}}
      },
      scales:{
        x:{type:'linear', min:p.xr[0], max:p.xr[1],
           afterBuildTicks:s=>{ s.ticks = xVals.map(v=>({value:v})); },
           afterFit:s=>{ s.height = bottomH; s.paddingLeft = 0; s.paddingRight = 0; },
           ticks:{callback:(v)=>{const i=xVals.indexOf(v); return i>=0?p.xt[i]:'';}, padding:7, color:'#262626', font:{size:11}, maxRotation:0, autoSkip:false},
           grid:{color:'#d0d0d0', lineWidth:1, drawTicks:false},
           border:{display:false, dash:[4,3]},
           title:{display:p.xlab, text:xAxisLabel, color:'#262626', font:{size:12.5}, padding:{top:0,bottom:1.5}}},
        y:{type:'linear', min:p.yr[0], max:p.yr[1],
           afterBuildTicks:s=>{ s.ticks = yVals.map(v=>({value:v})); },
           afterFit:s=>{ s.width = yW; s.paddingTop = 0; s.paddingBottom = 0; },
           ticks:{callback:(v)=>{const i=yVals.indexOf(v); return i>=0?p.yt[i]:'';}, padding:6.5, color:'#262626', font:{size:11}, autoSkip:false},
           grid:{color:'#d0d0d0', lineWidth:1, drawTicks:false},
           border:{display:false, dash:[4,3]},
           title:{display:p.ylab, text:yAxisLabel, color:'#262626', font:{size:12.5}, padding:{top:4.5,bottom:0}}}
      }
    }
  });
});
</script></body></html>
